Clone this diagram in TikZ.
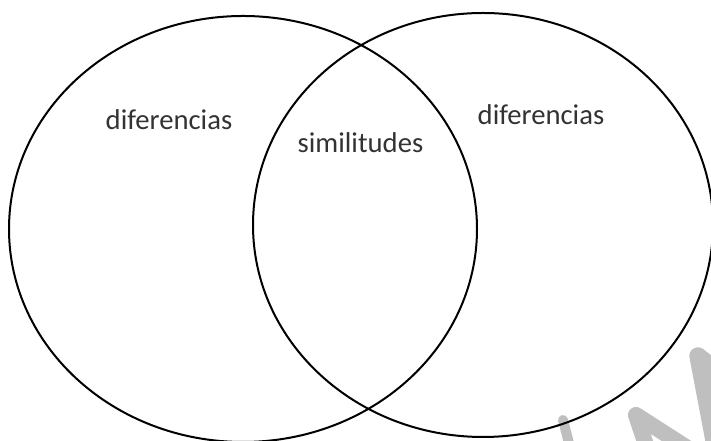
\documentclass[tikz,border=0pt]{standalone}
\usepackage{fontspec}
\setmainfont{Carlito}
\usepackage{tikz}
\usetikzlibrary{positioning}
\definecolor{tinta}{HTML}{333333}
\definecolor{marca}{HTML}{BFBFBF}
\tikzset{
  % conjuntos
  conj/.style={draw=black,line width=1.5pt},
  rot/.style={anchor=base,inner sep=0pt,text=tinta},
  % marca de agua
  agua/.style={draw=marca,line cap=round,line join=round},
}
\begin{document}
\begin{tikzpicture}[x=0.75pt,y=0.75pt,every node/.append style={font=\fontsize{21.5}{26}\selectfont}]
  \useasboundingbox (0,0) rectangle (711,441);
  % marca de agua (abajo a la derecha)
  \draw[agua,line width=7.5pt] (563,21) -- (571,-10);
  \draw[agua,line width=12pt] (648,-10) -- (636,26) -- (692,-10);
  \draw[agua,line width=13pt] (716,-10) -- (698,85) -- (722,66);
  % los dos conjuntos
  \draw[conj] (243,212) ellipse [x radius=234,y radius=213];
  \draw[conj] (483,216) ellipse [x radius=230,y radius=212];
  \node[rot] (dif1) at (169,311) {diferencias};
  \node[rot] (sim) at (360.5,288) {similitudes};
  \node[rot] (dif2) at (541,316) {diferencias};
\end{tikzpicture}
\end{document}
